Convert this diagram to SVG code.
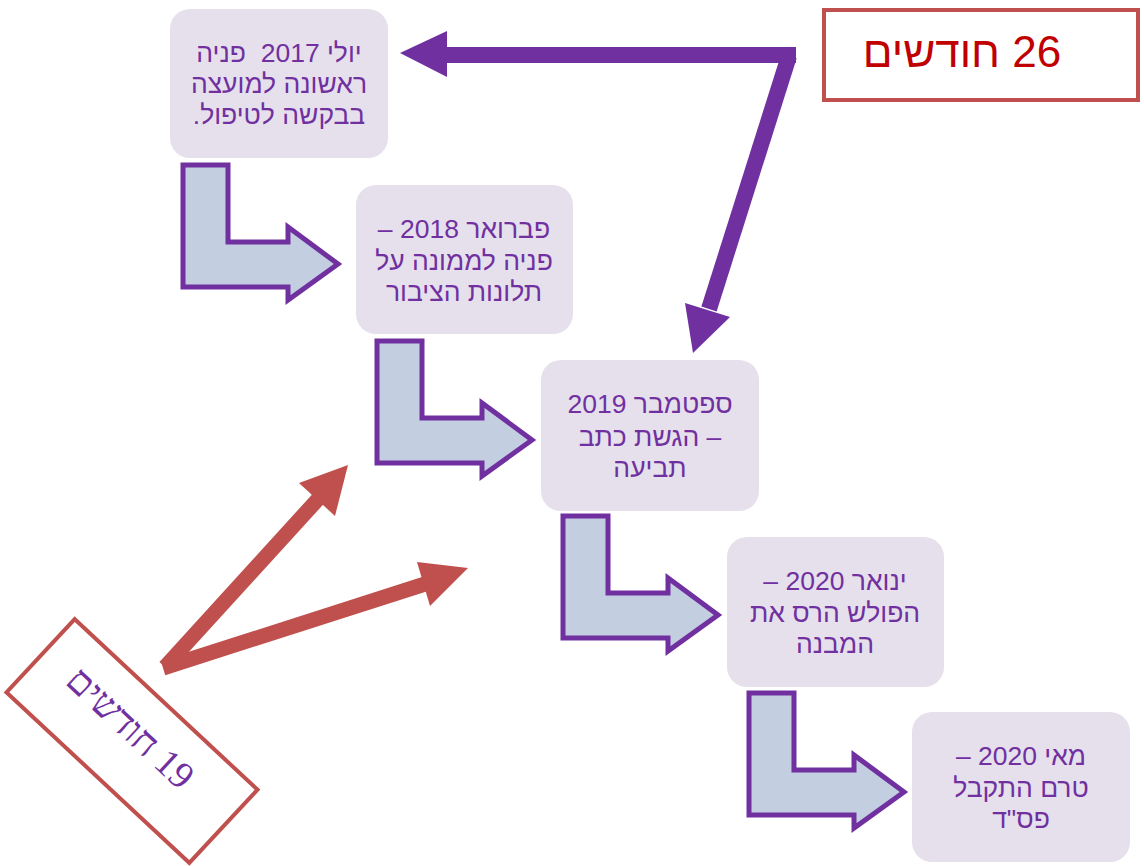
<svg xmlns="http://www.w3.org/2000/svg" width="1144" height="866" viewBox="0 0 1144 866">
<defs>
<style>
.box{fill:#E6E0EC;}
.t{font-family:"Liberation Sans",Arial,"Noto Sans",sans-serif;font-size:26.5px;fill:#7030A0;text-anchor:middle;direction:rtl;}
.bend{fill:#C3CEE1;stroke:#7030A0;stroke-width:5;stroke-linejoin:miter;}
.pl{stroke:#7030A0;stroke-width:16;fill:none;}
.ph{fill:#7030A0;}
.rl{stroke:#C0504D;stroke-width:15;fill:none;}
.rh{fill:#C0504D;}
</style>
<path id="bendShape" d="M0,0 L45,0 L45,77 L105,77 L105,62 L155,99 L105,135 L105,122 L0,122 Z"/>
</defs>
<rect width="1144" height="866" fill="#FFFFFF"/>

<g id="connectors">
  <use href="#bendShape" class="bend" x="183" y="165"/>
  <use href="#bendShape" class="bend" x="377" y="341"/>
  <use href="#bendShape" class="bend" x="563" y="516"/>
  <use href="#bendShape" class="bend" x="749" y="693"/>
  <line class="pl" x1="796" y1="55" x2="444" y2="55"/>
  <polygon class="ph" points="400,53 447,31 447,77"/>
  <line class="pl" x1="789" y1="56" x2="709" y2="309"/>
  <polygon class="ph" points="693,353 685,303 730,317"/>
  <line class="rl" x1="165" y1="667" x2="319" y2="498"/>
  <polygon class="rh" points="348,465 299,483 335,516"/>
  <line class="rl" x1="163" y1="668" x2="425" y2="584"/>
  <polygon class="rh" points="468,568 417,562 430,606"/>
</g>

<g id="node-2017">
  <rect class="box" x="170" y="9" width="218" height="149" rx="20"/>
  <text class="t" x="279" y="62" style="white-space:pre">יולי 2017  פניה</text>
  <text class="t" x="279" y="93">ראשונה למועצה</text>
  <text class="t" x="279" y="124">בבקשה לטיפול.</text>
</g>
<g id="node-2018">
  <rect class="box" x="356" y="185" width="217" height="149" rx="20"/>
  <text class="t" x="464" y="238">פברואר 2018 –</text>
  <text class="t" x="464" y="270">פניה לממונה על</text>
  <text class="t" x="464" y="301">תלונות הציבור</text>
</g>
<g id="node-2019">
  <rect class="box" x="541" y="360" width="218" height="151" rx="20"/>
  <text class="t" x="650" y="413">ספטמבר 2019</text>
  <text class="t" x="650" y="446">– הגשת כתב</text>
  <text class="t" x="650" y="477">תביעה</text>
</g>
<g id="node-2020-jan">
  <rect class="box" x="727" y="537" width="217" height="150" rx="20"/>
  <text class="t" x="835" y="590">ינואר 2020 –</text>
  <text class="t" x="835" y="622">הפולש הרס את</text>
  <text class="t" x="835" y="653">המבנה</text>
</g>
<g id="node-2020-may">
  <rect class="box" x="912" y="712" width="218" height="150" rx="20"/>
  <text class="t" x="1021" y="765">מאי 2020 –</text>
  <text class="t" x="1021" y="797">טרם התקבל</text>
  <text class="t" x="1021" y="828">פס"ד</text>
</g>
<g id="label-26">
  <rect x="824" y="10" width="314" height="90" fill="#FFFFFF" stroke="#C0504D" stroke-width="4"/>
  <text x="962" y="67" style="font-family:'Liberation Sans',Arial,sans-serif;font-size:44px;fill:#C00000;text-anchor:middle;direction:rtl;">26 חודשים</text>
</g>
<g id="label-19" transform="translate(132,741) rotate(43)">
  <rect x="-125" y="-50" width="250" height="100" fill="#FFFFFF" stroke="#C0504D" stroke-width="4"/>
  <text x="-10" y="4" style="font-family:'Liberation Serif','Times New Roman','DejaVu Serif',serif;font-size:38px;fill:#7030A0;text-anchor:middle;direction:rtl;">19 חודשים</text>
</g>
</svg>
